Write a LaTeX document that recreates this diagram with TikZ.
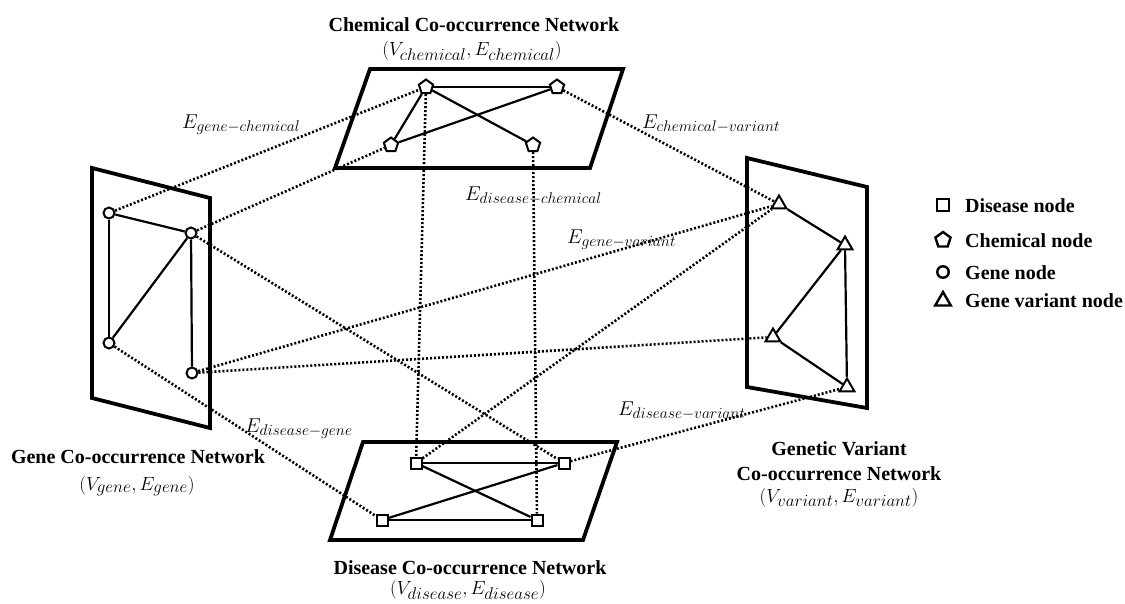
\RequirePackage{fix-cm}
\documentclass[tikz,border=0pt]{standalone}
\usepackage{fontspec}
\setmainfont{Liberation Serif}
\DeclareMathSizes{20}{20}{15.5}{12}
\DeclareMathSizes{19}{19}{17}{12}
\usetikzlibrary{shapes.geometric}
\begin{document}
\begin{tikzpicture}[x=1pt,y=-1pt,
  plane/.style={line width=3.8pt, line join=miter},
  link/.style={line width=2.2pt},
  xlink/.style={line width=2.6pt, dash pattern=on 2pt off 2pt},
  nd/.style={draw, line width=2pt, fill=white, inner sep=0pt},
  genenode/.style={nd, circle, minimum size=11pt},
  disnode/.style={nd, rectangle, minimum size=11pt},
  chemnode/.style={nd, regular polygon, regular polygon sides=5, minimum size=15pt},
  varnode/.style={nd, regular polygon, regular polygon sides=3, minimum size=17pt},
  title/.style={font=\fontsize{20}{24}\selectfont\bfseries, anchor=base, inner sep=0pt},
  sub/.style={font=\fontsize{19}{23}\selectfont, anchor=base, inner sep=0pt},
  elabel/.style={font=\fontsize{20}{24}\selectfont, anchor=base west, inner sep=0pt},
  legtext/.style={font=\fontsize{20}{24}\selectfont\bfseries, anchor=base west, inner sep=0pt}
]
\useasboundingbox (0,0) rectangle (1125,603);

% network planes
\draw[plane] (370,69) -- (623,69) -- (590,168) -- (335,168) -- cycle;
\draw[plane] (92,168) -- (210,198) -- (210,428) -- (92,398) -- cycle;
\draw[plane] (747,158) -- (867,187) -- (867,408) -- (747,387) -- cycle;
\draw[plane] (363,442) -- (617,442) -- (583,540) -- (330,540) -- cycle;

% nodes: chemical
\node[chemnode] (c1) at (426,87) {};
\node[chemnode] (c2) at (557,87) {};
\node[chemnode] (c3) at (391,145) {};
\node[chemnode] (c4) at (533,145) {};
% nodes: gene
\node[genenode] (g1) at (109,213) {};
\node[genenode] (g2) at (191,233) {};
\node[genenode] (g3) at (109,343) {};
\node[genenode] (g4) at (192,373) {};
% nodes: genetic variant
\node[varnode] (v1) at (779,204) {};
\node[varnode] (v2) at (845,245) {};
\node[varnode] (v3) at (773,337) {};
\node[varnode] (v4) at (847,387) {};
% nodes: disease
\node[disnode] (d1) at (416,463) {};
\node[disnode] (d2) at (564,463) {};
\node[disnode] (d3) at (382,520) {};
\node[disnode] (d4) at (537,520) {};

% cross-network edges
\draw[xlink] (g1) -- (c1);
\draw[xlink] (g2) -- (c3);
\draw[xlink] (g2) -- (d2);
\draw[xlink] (g3) -- (d3);
\draw[xlink] (g4) -- (v1);
\draw[xlink] (g4) -- (v3);
\draw[xlink] (c1) -- (d1);
\draw[xlink] (c4) -- (d4);
\draw[xlink] (c2) -- (v1);
\draw[xlink] (d1) -- (v1);
\draw[xlink] (d2) -- (v4);

% within-network edges
\draw[link] (c1) -- (c2);
\draw[link] (c1) -- (c3);
\draw[link] (c1) -- (c4);
\draw[link] (c2) -- (c3);
\draw[link] (g1) -- (g2);
\draw[link] (g1) -- (g3);
\draw[link] (g3) -- (g2);
\draw[link] (g2) -- (g4);
\draw[link] (v1) -- (v2);
\draw[link] (v2) -- (v3);
\draw[link] (v2) -- (v4);
\draw[link] (v3) -- (v4);
\draw[link] (d1) -- (d2);
\draw[link] (d3) -- (d4);
\draw[link] (d1) -- (d4);
\draw[link] (d2) -- (d3);

% edge-type labels
\node[elabel] (lgc) at (182,128) {$E_{gene-chemical}$};
\node[elabel] (lcv) at (642,128) {$E_{chemical-variant}$};
\node[elabel] (ldc) at (465,200) {$E_{disease-chemical}$};
\node[elabel] (lgv) at (567,243) {$E_{gene-variant}$};
\node[elabel] (ldg) at (245,432) {$E_{disease-gene}$};
\node[elabel] (ldv) at (618,415) {$E_{disease-variant}$};

% network titles
\node[title] (tchem) at (474,31) {Chemical Co-occurrence Network};
\node[sub] (schem) at (472,55) {$(V_{chemical}, E_{chemical})$};
\node[title] (tgene) at (138,463) {Gene Co-occurrence Network};
\node[sub] (sgene) at (137,490) {$(V_{gene}, E_{gene})$};
\node[title] (tdis) at (470,574) {Disease Co-occurrence Network};
\node[sub] (sdis) at (468,594) {$(V_{disease}, E_{disease})$};
\node[title] (tvar1) at (839,455) {Genetic Variant};
\node[title] (tvar2) at (839,480) {Co-occurrence Network};
\node[sub] (svar) at (839,502) {$(V_{variant}, E_{variant})$};

% legend
\node[disnode, line width=2.4pt, minimum size=12pt] (kd) at (943,205) {};
\node[chemnode, line width=2.4pt, minimum size=16pt] (kc) at (943,240) {};
\node[genenode, line width=2.4pt, minimum size=11.5pt] (kg) at (943,272) {};
\node[varnode, line width=2.4pt, minimum size=18pt] (kv) at (943,301) {};
\node[legtext] (kdt) at (965,212) {Disease node};
\node[legtext] (kct) at (965,247) {Chemical node};
\node[legtext] (kgt) at (965,279) {Gene node};
\node[legtext] (kvt) at (965,307) {Gene variant node};
\end{tikzpicture}
\end{document}
